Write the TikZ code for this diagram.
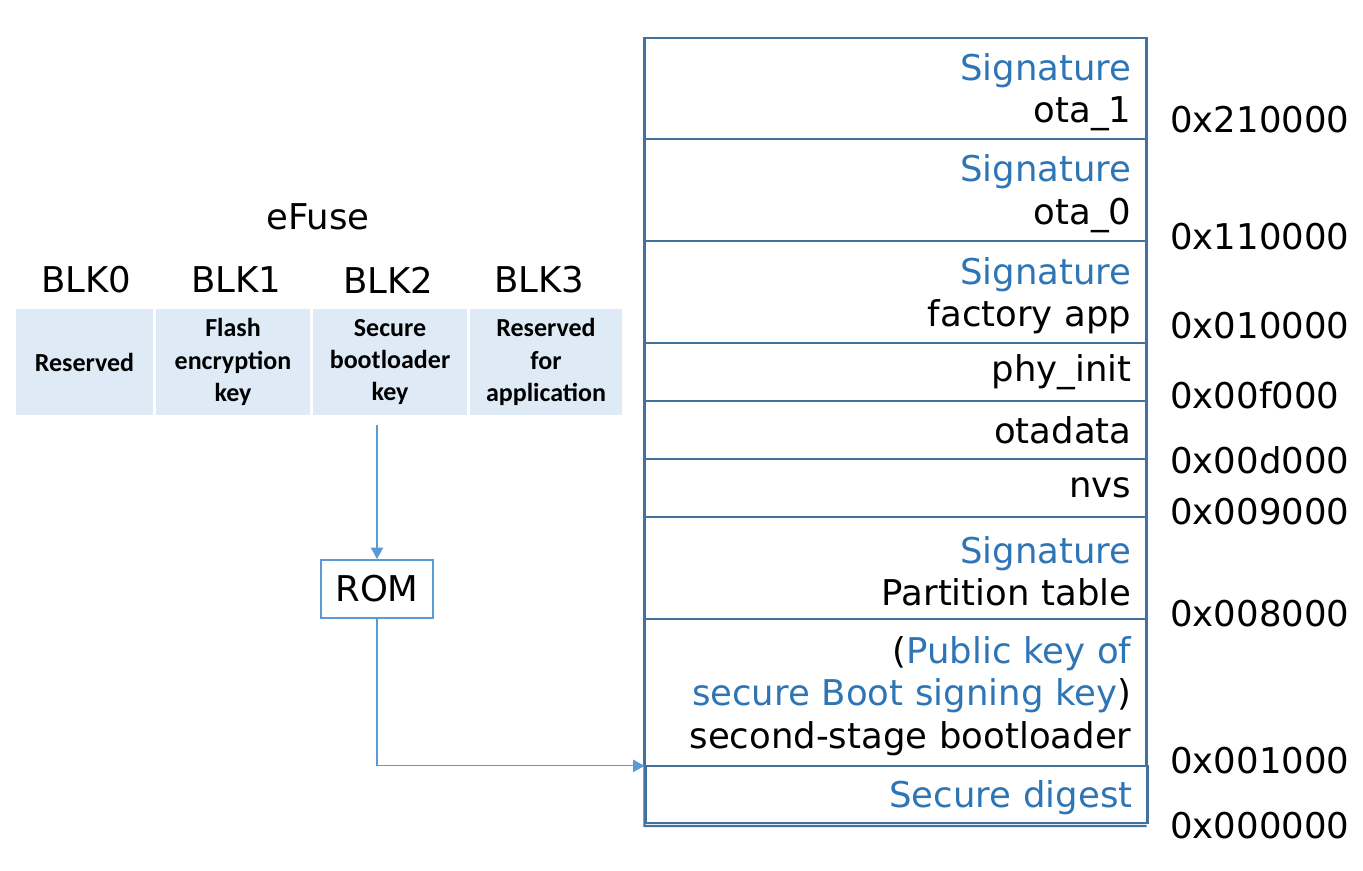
\documentclass[tikz,border=0pt]{standalone}
\usepackage{fontspec}
\setmainfont{DejaVu Sans}
\newfontfamily\cellfont{Carlito}
\usetikzlibrary{positioning, arrows.meta}

\definecolor{mapline}{HTML}{41719C}
\definecolor{sigblue}{HTML}{2E75B6}
\definecolor{arrowblue}{HTML}{5B9BD5}
\definecolor{cellfill}{HTML}{DEEBF7}

\newcommand{\rowstrut}{\rule{0pt}{19.5pt}}

\tikzstyle{rowbox} = [draw=mapline, line width=1.3pt, outer sep=0, inner xsep=0.3cm, inner ysep=0, text width=9.44cm, align=right, font=\fontsize{20.2}{24.1}\selectfont]
\tikzstyle{addr} = [anchor=west, inner sep=0, font=\fontsize{20.2}{24.1}\selectfont]
\tikzstyle{blklabel} = [inner sep=0, font=\fontsize{20.2}{24.1}\selectfont]
\tikzstyle{fusecell} = [fill=cellfill, inner sep=0, minimum height=2.12cm, align=center, font=\cellfont\bfseries\fontsize{14.8}{18.4}\selectfont]
\tikzstyle{link} = [draw=arrowblue, line width=0.6pt, -{Triangle[width=7pt, length=6.5pt]}]

\begin{document}
\begin{tikzpicture}[x=0.02cm, y=-0.02cm]
      \useasboundingbox (0, 0) rectangle (1363, 870);

      % flash memory map
      \node[rowbox, minimum height=2.02cm] (ota1) at (895.5, 88.5) {\rowstrut\textcolor{sigblue}{Signature}\\ota\_1};
      \node[rowbox, minimum height=2.04cm, below=0pt of ota1] (ota0) {\rowstrut\textcolor{sigblue}{Signature}\\ota\_0};
      \node[rowbox, minimum height=2.04cm, below=0pt of ota0] (factory) {\rowstrut\textcolor{sigblue}{Signature}\\factory app};
      \node[rowbox, minimum height=1.16cm, below=0pt of factory] (phyinit) {phy\_init};
      \node[rowbox, minimum height=1.16cm, below=0pt of phyinit] (otadata) {otadata};
      \node[rowbox, minimum height=1.16cm, below=0pt of otadata] (nvs) {nvs};
      \node[rowbox, minimum height=2.04cm, below=0pt of nvs] (ptable) {\rowstrut\textcolor{sigblue}{Signature}\\Partition table};
      \node[rowbox, minimum height=2.94cm, below=0pt of ptable] (boot) {\rowstrut(\textcolor{sigblue}{Public key of}\\\textcolor{sigblue}{secure Boot signing key})\\second-stage bootloader};
      \node[rowbox, minimum height=1.14cm, anchor=north west] (digest) at ([xshift=0.02cm] boot.south west) {\rowstrut\textcolor{sigblue}{Secure digest}};
      \draw[mapline, line width=1.3pt] (boot.south west) -- (644.5, 826) -- (1146.5, 826);

      % addresses
      \node[addr] (a210) at (1170, 120) {0x210000};
      \node[addr] (a110) at (1170, 237) {0x110000};
      \node[addr] (a010) at (1170, 326) {0x010000};
      \node[addr] (a00f) at (1170, 395) {0x00f000};
      \node[addr] (a00d) at (1170, 460) {0x00d000};
      \node[addr] (a009) at (1170, 512) {0x009000};
      \node[addr] (a008) at (1170, 614) {0x008000};
      \node[addr] (a001) at (1170, 761) {0x001000};
      \node[addr] (a000) at (1170, 826) {0x000000};

      % eFuse blocks
      \node[blklabel] (efuse) at (318, 217) {eFuse};
      \node[fusecell, minimum width=2.74cm] (cell0) at (84.5, 362) {Reserved};
      \node[fusecell, minimum width=3.08cm] (cell1) at (233, 362) {Flash\\encryption\\key};
      \node[fusecell, minimum width=3.08cm] (cell2) at (390, 362) {Secure\\bootloader\\key};
      \node[fusecell, minimum width=3.04cm] (cell3) at (546, 362) {Reserved\\for\\application};
      \node[blklabel] (blk0) at (86, 280) {BLK0};
      \node[blklabel] (blk1) at (236, 280) {BLK1};
      \node[blklabel] (blk2) at (388, 280) {BLK2};
      \node[blklabel] (blk3) at (539, 280) {BLK3};

      % ROM
      \node[draw=arrowblue, line width=1.1pt, minimum width=2.24cm, minimum height=1.16cm, inner sep=0, font=\fontsize{20.2}{24.1}\selectfont] (rom) at (377, 589) {ROM};
      \coordinate (keyout) at (377, 425);

      \draw[link] (keyout) -- (rom.north);
      \draw[link] (rom.south) |- (boot.south west);
    \end{tikzpicture}
\end{document}
